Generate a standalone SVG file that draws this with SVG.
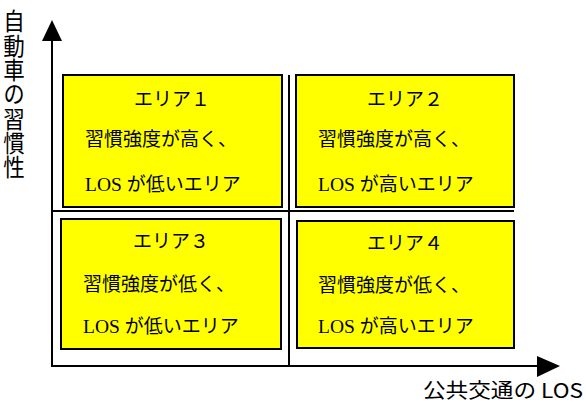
<svg xmlns="http://www.w3.org/2000/svg" width="586" height="410" viewBox="0 0 586 410">
<style>
.box{fill:#ffff00;stroke:#000;stroke-width:2}
.ln{stroke:#000;stroke-width:2;fill:none}
.jp{font-family:"Noto Sans CJK JP","Noto Sans",sans-serif;font-size:19px;fill:#000}
.ttl{text-anchor:middle}
tspan.ser{font-family:"Liberation Serif","Times New Roman",serif;font-size:19.5px}
</style>
<rect width="586" height="410" fill="#fff"/>
<g id="connectors">
<line class="ln" x1="52" y1="38" x2="52" y2="367"/>
<polygon points="52,20 42,41 62,41" fill="#000"/>
<line class="ln" x1="51" y1="366" x2="540" y2="366"/>
<polygon points="560,366 537,356 537,377" fill="#000"/>
<line class="ln" x1="289" y1="75" x2="289" y2="366"/>
<line class="ln" x1="52" y1="211" x2="514" y2="211"/>
</g>
<g id="axis-y-label">
<g transform="translate(14,0) scale(1,1.13)">
<text class="jp" x="0" y="8" style="font-size:21.5px;writing-mode:vertical-rl">自動車の習慣性</text>
</g>
</g>
<g id="axis-x-label">
<text class="jp" x="423" y="398" style="font-size:20px" textLength="160" lengthAdjust="spacingAndGlyphs">公共交通の LOS</text>
</g>
<g id="area1">
<rect class="box" x="63" y="75" width="219" height="132"/>
<text class="jp ttl" x="172" y="106">エリア１</text>
<text class="jp" x="85" y="146">習慣強度が高く、</text>
<text class="jp" x="85" y="191"><tspan class="ser">LOS </tspan>が低いエリア</text>
</g>
<g id="area2">
<rect class="box" x="296" y="75" width="218" height="132"/>
<text class="jp ttl" x="405" y="106">エリア２</text>
<text class="jp" x="318" y="146">習慣強度が高く、</text>
<text class="jp" x="318" y="191"><tspan class="ser">LOS </tspan>が高いエリア</text>
</g>
<g id="area3">
<rect class="box" x="61" y="219" width="220" height="130"/>
<text class="jp ttl" x="171" y="248">エリア３</text>
<text class="jp" x="83" y="291">習慣強度が低く、</text>
<text class="jp" x="83" y="333"><tspan class="ser">LOS </tspan>が低いエリア</text>
</g>
<g id="area4">
<rect class="box" x="297" y="221" width="217" height="127"/>
<text class="jp ttl" x="405" y="250">エリア４</text>
<text class="jp" x="318" y="292">習慣強度が低く、</text>
<text class="jp" x="318" y="333"><tspan class="ser">LOS </tspan>が高いエリア</text>
</g>
</svg>
